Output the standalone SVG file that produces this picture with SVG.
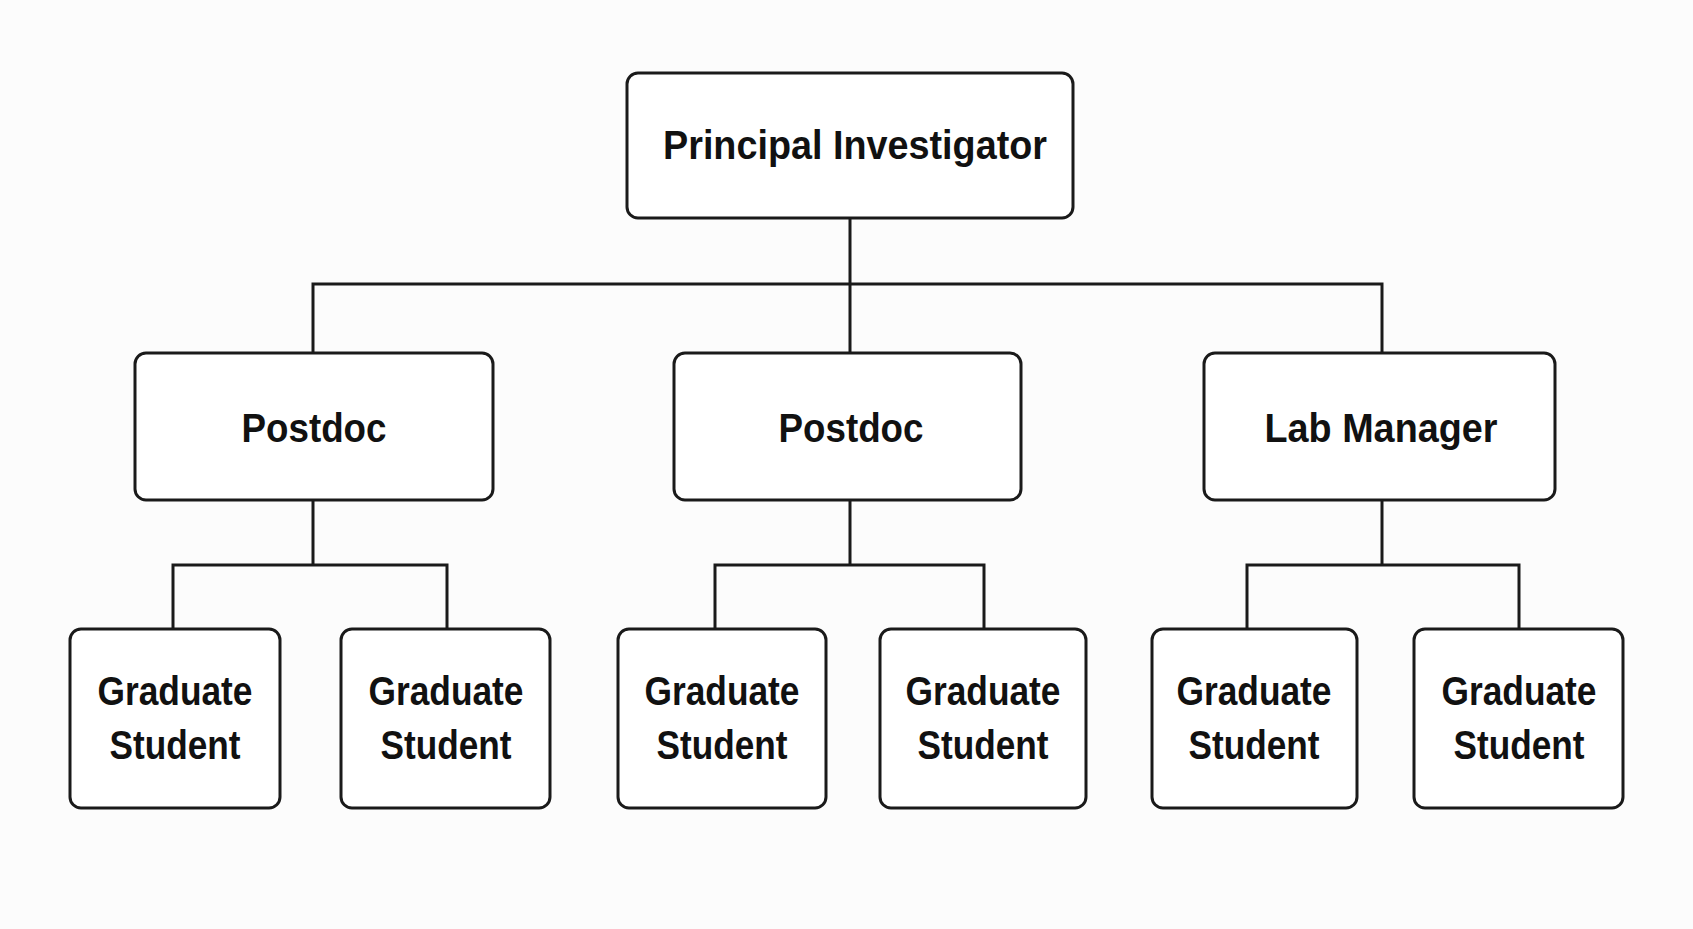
<svg xmlns="http://www.w3.org/2000/svg" width="1693" height="929" viewBox="0 0 1693 929">
<style>
.b{fill:#fff;stroke:#1a1a1a;stroke-width:3}
.t{font-family:"Liberation Sans",Arial,sans-serif;font-weight:bold;font-size:41px;fill:#111;text-anchor:middle;dominant-baseline:central}
.c{fill:none;stroke:#1a1a1a;stroke-width:3}
</style>
<rect width="1693" height="929" fill="#fcfcfc"/>
<g id="connectors" class="c">
<path d="M850 218V353M313 353V284H1382V353"/>
<path d="M313 500V565M173 629V565H447V629"/>
<path d="M850 500V565M715 629V565H984V629"/>
<path d="M1382 500V565M1247 629V565H1519V629"/>
</g>
<g id="pi"><rect class="b" x="627" y="73" width="446" height="145" rx="11"/><text class="t" x="855" y="145" textLength="384" lengthAdjust="spacingAndGlyphs">Principal Investigator</text></g>
<g id="postdoc1"><rect class="b" x="135" y="353" width="358" height="147" rx="11"/><text class="t" x="314" y="428" textLength="145" lengthAdjust="spacingAndGlyphs">Postdoc</text></g>
<g id="postdoc2"><rect class="b" x="674" y="353" width="347" height="147" rx="11"/><text class="t" x="851" y="428" textLength="145" lengthAdjust="spacingAndGlyphs">Postdoc</text></g>
<g id="labmanager"><rect class="b" x="1204" y="353" width="351" height="147" rx="11"/><text class="t" x="1381" y="428" textLength="233" lengthAdjust="spacingAndGlyphs">Lab Manager</text></g>
<g id="grad1"><rect class="b" x="70" y="629" width="210" height="179" rx="11"/><text class="t" x="175" y="691" textLength="155" lengthAdjust="spacingAndGlyphs">Graduate</text><text class="t" x="175" y="745" textLength="131" lengthAdjust="spacingAndGlyphs">Student</text></g>
<g id="grad2"><rect class="b" x="341" y="629" width="209" height="179" rx="11"/><text class="t" x="446" y="691" textLength="155" lengthAdjust="spacingAndGlyphs">Graduate</text><text class="t" x="446" y="745" textLength="131" lengthAdjust="spacingAndGlyphs">Student</text></g>
<g id="grad3"><rect class="b" x="618" y="629" width="208" height="179" rx="11"/><text class="t" x="722" y="691" textLength="155" lengthAdjust="spacingAndGlyphs">Graduate</text><text class="t" x="722" y="745" textLength="131" lengthAdjust="spacingAndGlyphs">Student</text></g>
<g id="grad4"><rect class="b" x="880" y="629" width="206" height="179" rx="11"/><text class="t" x="983" y="691" textLength="155" lengthAdjust="spacingAndGlyphs">Graduate</text><text class="t" x="983" y="745" textLength="131" lengthAdjust="spacingAndGlyphs">Student</text></g>
<g id="grad5"><rect class="b" x="1152" y="629" width="205" height="179" rx="11"/><text class="t" x="1254" y="691" textLength="155" lengthAdjust="spacingAndGlyphs">Graduate</text><text class="t" x="1254" y="745" textLength="131" lengthAdjust="spacingAndGlyphs">Student</text></g>
<g id="grad6"><rect class="b" x="1414" y="629" width="209" height="179" rx="11"/><text class="t" x="1519" y="691" textLength="155" lengthAdjust="spacingAndGlyphs">Graduate</text><text class="t" x="1519" y="745" textLength="131" lengthAdjust="spacingAndGlyphs">Student</text></g>
</svg>
